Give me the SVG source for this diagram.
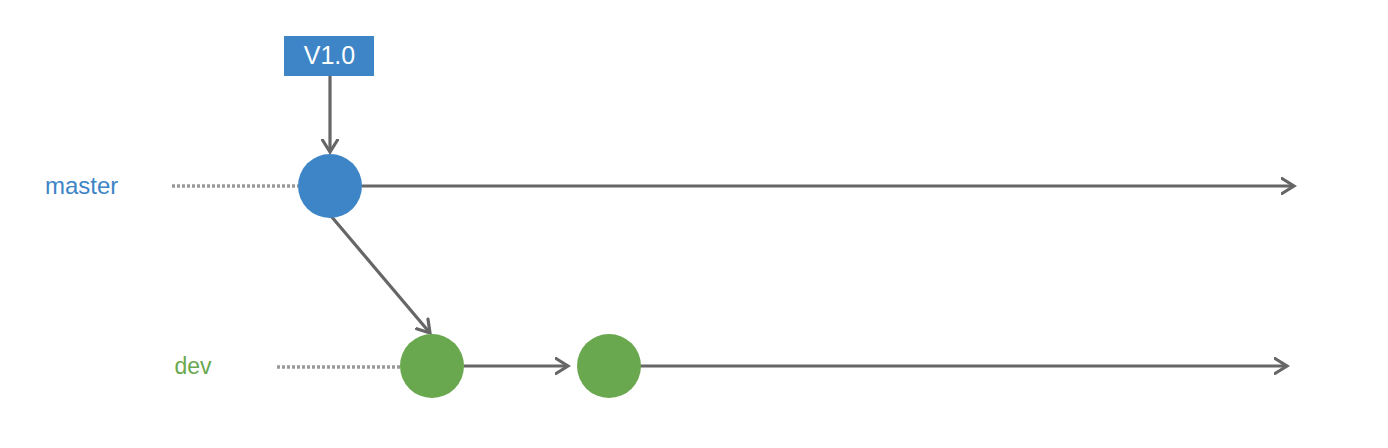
<svg xmlns="http://www.w3.org/2000/svg" width="1388" height="448" viewBox="0 0 1388 448">
<style>
.edge{stroke:#666;stroke-width:3.2;fill:none}
.dot{stroke:#999;stroke-width:3.5;stroke-dasharray:3 2;fill:none}
.lbl{font-family:"Liberation Sans",Arial,sans-serif;font-size:23px}
.tag{font-size:25px}
.big{font-size:24px}
</style>
<defs>
<marker id="arr" viewBox="0 0 16 18" refX="13.5" refY="9" markerWidth="16" markerHeight="18" markerUnits="userSpaceOnUse" orient="auto">
<polyline points="1.5,1.5 13.5,9 1.5,16.5" fill="none" stroke="#666" stroke-width="3.2" stroke-linecap="round" stroke-linejoin="miter"/>
</marker>
</defs>
<rect width="1388" height="448" fill="#fff"/>
<g id="connectors">
<line class="dot" x1="172" y1="186" x2="298" y2="186"/>
<line class="dot" x1="277" y1="367" x2="400" y2="367"/>
<line class="edge" x1="330" y1="76" x2="330" y2="152" marker-end="url(#arr)"/>
<line class="edge" x1="362" y1="186" x2="1294" y2="186" marker-end="url(#arr)"/>
<line class="edge" x1="331" y1="216" x2="430" y2="333" marker-end="url(#arr)"/>
<line class="edge" x1="464" y1="366" x2="568" y2="366" marker-end="url(#arr)"/>
<line class="edge" x1="640" y1="366" x2="1287" y2="366" marker-end="url(#arr)"/>
</g>
<g id="tag">
<rect x="284" y="36" width="90" height="40" fill="#3d85c6"/>
<text class="lbl tag" x="329.5" y="64" text-anchor="middle" fill="#fff">V1.0</text>
</g>
<g id="master-label"><text class="lbl big" x="45" y="194" fill="#3d85c6">master</text></g>
<g id="dev-label"><text class="lbl" x="174.5" y="374" fill="#6aa84f">dev</text></g>
<g id="master-commit"><circle cx="330" cy="186" r="32" fill="#3d85c6"/></g>
<g id="dev-commit-1"><circle cx="432" cy="366" r="32" fill="#6aa84f"/></g>
<g id="dev-commit-2"><circle cx="609" cy="366" r="32" fill="#6aa84f"/></g>
</svg>
